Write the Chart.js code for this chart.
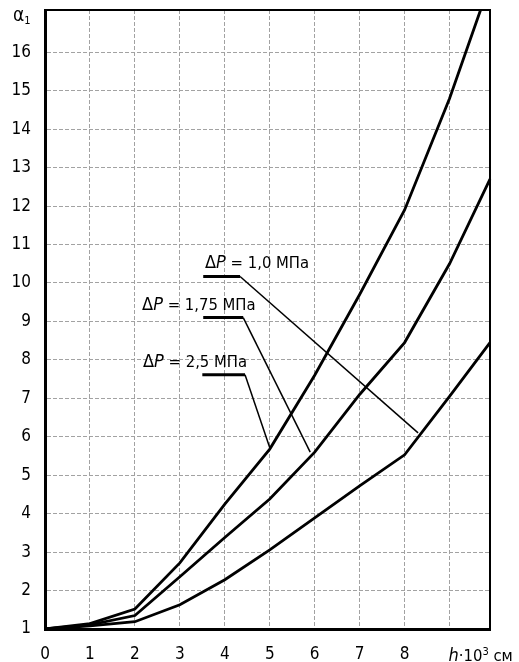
<!DOCTYPE html>
<html>
<head>
<meta charset="utf-8">
<script src="https://cdn.jsdelivr.net/npm/chart.js@4.4.1/dist/chart.umd.min.js"></script>
<style>
  html, body { margin: 0; padding: 0; background: #fff; }
  #wrap { position: relative; width: 519px; height: 662px; }
</style>
</head>
<body>
<div id="wrap"><canvas id="alphaChart"></canvas></div>
<script>
const FONT = '"Liberation Sans Narrow", "DejaVu Sans Condensed", "Noto Sans", sans-serif';

// axes
const xTicks = [0, 1, 2, 3, 4, 5, 6, 7, 8, 9];
const yTicks = [1, 2, 3, 4, 5, 6, 7, 8, 9, 10, 11, 12, 13, 14, 15, 16];

// ΔP = 1,0 MPa
const hDp10 = [0, 1, 2, 3, 4, 5, 6, 7, 8, 9, 9.9];
const alphaDp10 = [1, 1.08, 1.19, 1.63, 2.28, 3.06, 3.89, 4.72, 5.53, 7.05, 8.45];

// ΔP = 1,75 MPa
const hDp175 = [0, 1, 2, 3, 4, 5, 6, 7, 8, 9, 9.9];
const alphaDp175 = [1, 1.11, 1.35, 2.36, 3.38, 4.38, 5.6, 7.1, 8.45, 10.5, 12.7];

// ΔP = 2,5 MPa
const hDp25 = [0, 1, 2, 3, 4, 5, 6, 7, 8, 9, 9.69];
const alphaDp25 = [1, 1.14, 1.52, 2.72, 4.25, 5.68, 7.6, 9.7, 11.9, 14.8, 17.1];

const dpLabels = ["1,0", "1,75", "2,5"];

function toPoints(xs, ys) {
  return xs.map((x, i) => ({ x: x, y: ys[i] }));
}

// leader lines of the labels, in axis units
const leaders = [
  { textX: 3.56, shelfY: 10.17, shelfX0: 3.52, shelfX1: 4.34, tipX: 8.3, tipY: 6.1 },
  { textX: 2.16, shelfY: 9.1, shelfX0: 3.52, shelfX1: 4.41, tipX: 5.9, tipY: 5.6 },
  { textX: 2.18, shelfY: 7.61, shelfX0: 3.5, shelfX1: 4.45, tipX: 5.01, tipY: 5.68 },
];

function drawRich(ctx, parts, x, y) {
  let cx = x;
  parts.forEach((p) => {
    const size = p.size || (p.sup ? 11 : 16);
    ctx.font = (p.italic ? "italic " : "") + size + "px " + FONT;
    ctx.fillText(p.t, cx, y + (p.dy || 0));
    cx += ctx.measureText(p.t).width;
  });
  return cx - x;
}

const extrasPlugin = {
  id: "extras",
  afterDatasetsDraw(chart) {
    const ctx = chart.ctx;
    const xs = chart.scales.x;
    const ys = chart.scales.y;
    const a = chart.chartArea;

    ctx.save();
    ctx.strokeStyle = "#000";
    ctx.lineWidth = 2;
    ctx.beginPath();
    ctx.moveTo(a.left, a.top);
    ctx.lineTo(a.right, a.top);
    ctx.lineTo(a.right, a.bottom);
    ctx.stroke();

    ctx.fillStyle = "#000";
    ctx.textBaseline = "alphabetic";
    leaders.forEach((l, i) => {
      const sy = ys.getPixelForValue(l.shelfY);
      ctx.lineWidth = 3;
      ctx.beginPath();
      ctx.moveTo(xs.getPixelForValue(l.shelfX0), sy);
      ctx.lineTo(xs.getPixelForValue(l.shelfX1), sy);
      ctx.stroke();
      ctx.lineWidth = 1.5;
      ctx.beginPath();
      ctx.moveTo(xs.getPixelForValue(l.shelfX1), sy);
      ctx.lineTo(xs.getPixelForValue(l.tipX), ys.getPixelForValue(l.tipY));
      ctx.stroke();
      drawRich(ctx, [
        { t: "\u0394", size: 18 },
        { t: "P", italic: true, size: 18 },
        { t: " = " + dpLabels[i] + " \u041c\u041f\u0430", size: 16.5 },
      ], xs.getPixelForValue(l.textX), sy - 8);
    });
    ctx.restore();
  },
  afterDraw(chart) {
    const ctx = chart.ctx;
    const xs = chart.scales.x;
    ctx.save();
    ctx.fillStyle = "#000";
    ctx.textBaseline = "alphabetic";
    drawRich(ctx, [
      { t: "h", italic: true, size: 18 },
      { t: "\u00b710", size: 16.5 },
      { t: "3", sup: true, dy: -6 },
      { t: " \u0441\u043c", size: 16.5 },
    ], xs.getPixelForValue(9) - 1, 661);
    drawRich(ctx, [
      { t: "\u03b1", size: 19 },
      { t: "1", size: 11, dy: 3 },
    ], 13, 21);
    ctx.restore();
  },
};

const gridColor = "#a2a2a2";

new Chart(document.getElementById("alphaChart"), {
  type: "scatter",
  data: {
    datasets: [
      { label: "1,0", data: toPoints(hDp10, alphaDp10) },
      { label: "1,75", data: toPoints(hDp175, alphaDp175) },
      { label: "2,5", data: toPoints(hDp25, alphaDp25) },
    ].map((d) => ({
      ...d,
      showLine: true,
      borderColor: "#000",
      borderWidth: 2.8,
      pointRadius: 0,
      tension: 0,
      clip: false,
    })),
  },
  options: {
    responsive: true,
    maintainAspectRatio: false,
    animation: false,
    layout: { padding: { top: 10, right: 29, left: 0, bottom: 0 } },
    plugins: { legend: { display: false }, tooltip: { enabled: false } },
    scales: {
      x: {
        type: "linear",
        min: 0,
        max: 9.9,
        afterBuildTicks: (s) => {
          s.ticks = xTicks.map((v) => ({ value: v }));
        },
        afterFit: (s) => {
          s.height = 33;
          s.paddingLeft = 0;
          s.paddingRight = 0;
        },
        ticks: {
          autoSkip: false,
          maxRotation: 0,
          padding: 15,
          color: "#000",
          font: { family: FONT, size: 17 },
          callback: (v) => (v === 9 ? "" : String(v)),
        },
        grid: {
          drawTicks: false,
          lineWidth: 1,
          color: (c) => (c.tick && c.tick.value === 0 ? "rgba(0,0,0,0)" : gridColor),
        },
        border: { display: true, color: "#000", width: 3, dash: [4, 2] },
      },
      y: {
        type: "linear",
        min: 1,
        max: 17.1,
        afterBuildTicks: (s) => {
          s.ticks = yTicks.map((v) => ({ value: v }));
        },
        afterFit: (s) => {
          s.width = 45;
          s.paddingTop = 0;
          s.paddingBottom = 0;
        },
        ticks: {
          autoSkip: false,
          padding: 14,
          color: "#000",
          font: { family: FONT, size: 17 },
        },
        grid: {
          drawTicks: false,
          lineWidth: 1,
          color: (c) => (c.tick && c.tick.value === 1 ? "rgba(0,0,0,0)" : gridColor),
        },
        border: { display: true, color: "#000", width: 3, dash: [4, 2] },
      },
    },
  },
  plugins: [extrasPlugin],
});
</script>
</body>
</html>
